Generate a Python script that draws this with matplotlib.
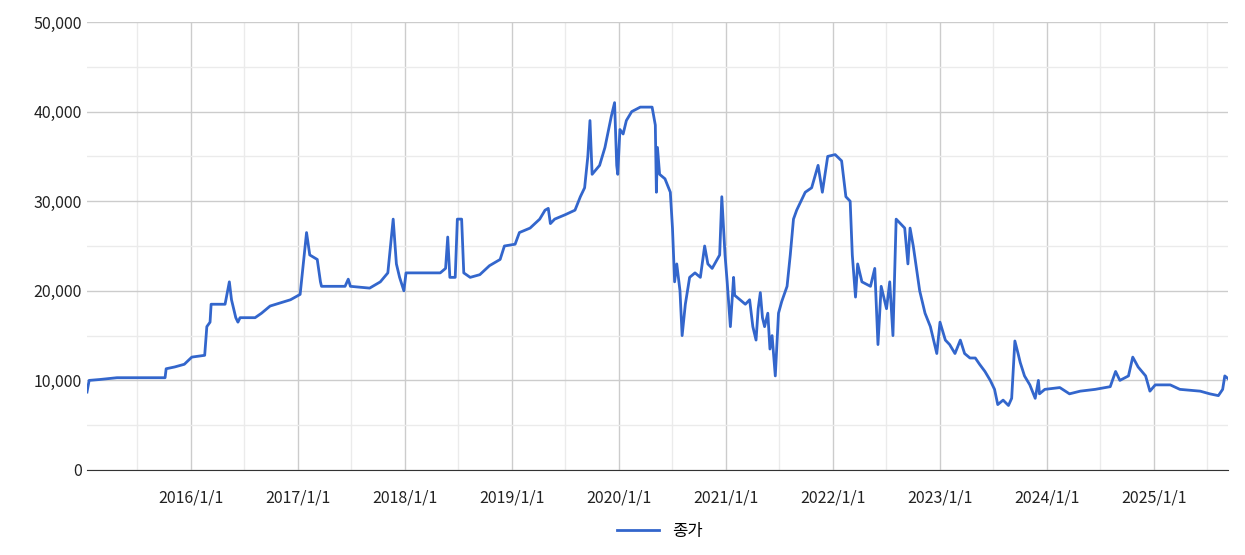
import matplotlib
matplotlib.use("Agg")
import matplotlib.pyplot as plt
import matplotlib.dates as mdates
from matplotlib.ticker import FuncFormatter, MultipleLocator
import pandas as pd

plt.rcParams['font.family'] = ['Noto Sans CJK KR', 'DejaVu Sans']

years = [2015.03,2015.05,2015.15,2015.31,2015.76,2015.77,2015.85,2015.94,2016.01,2016.13,2016.15,2016.18,2016.19,
2016.32,2016.36,2016.38,2016.42,2016.44,2016.46,2016.60,2016.66,2016.74,2016.93,2017.02,2017.05,2017.08,2017.11,
2017.18,2017.21,2017.22,2017.44,2017.47,2017.49,2017.67,2017.77,2017.84,2017.89,2017.92,2017.95,2017.99,2018.01,
2018.33,2018.38,2018.40,2018.42,2018.47,2018.49,2018.53,2018.55,2018.61,2018.70,2018.79,2018.89,2018.93,2019.03,
2019.07,2019.17,2019.26,2019.31,2019.34,2019.36,2019.40,2019.50,2019.59,2019.64,2019.68,2019.71,2019.73,2019.75,
2019.82,2019.87,2019.93,2019.96,2019.98,2019.99,2020.01,2020.04,2020.07,2020.12,2020.20,2020.31,2020.34,2020.35,
2020.36,2020.38,2020.43,2020.48,2020.50,2020.52,2020.54,2020.57,2020.59,2020.62,2020.66,2020.71,2020.76,2020.80,
2020.83,2020.87,2020.94,2020.96,2020.99,2021.01,2021.04,2021.07,2021.08,2021.18,2021.22,2021.25,2021.28,2021.30,
2021.32,2021.34,2021.36,2021.39,2021.41,2021.43,2021.46,2021.49,2021.52,2021.57,2021.60,2021.63,2021.66,2021.74,
2021.80,2021.86,2021.90,2021.95,2022.02,2022.08,2022.12,2022.16,2022.18,2022.21,2022.23,2022.27,2022.35,2022.39,
2022.42,2022.45,2022.50,2022.53,2022.56,2022.59,2022.63,2022.67,2022.70,2022.72,2022.75,2022.81,2022.86,2022.91,
2022.95,2022.97,2023.00,2023.05,2023.09,2023.14,2023.19,2023.23,2023.28,2023.33,2023.37,2023.42,2023.47,2023.51,
2023.54,2023.59,2023.64,2023.67,2023.70,2023.73,2023.75,2023.79,2023.84,2023.89,2023.92,2023.93,2023.98,2024.12,
2024.21,2024.31,2024.45,2024.59,2024.64,2024.68,2024.76,2024.80,2024.85,2024.92,2024.96,2025.01,2025.15,2025.24,
2025.43,2025.52,2025.60,2025.64,2025.66,2025.69]

prices = [8700,10000,10100,10300,10300,11300,11500,11800,12600,12800,16000,16500,18500,
18500,21000,19000,17000,16500,17000,17000,17500,18300,19000,19600,23000,26500,24000,
23500,21000,20500,20500,21300,20500,20300,21000,22000,28000,23000,21500,20000,22000,
22000,22500,26000,21500,21500,28000,28000,22000,21500,21800,22800,23500,25000,25200,
26500,27000,28000,29000,29200,27500,28000,28500,29000,30500,31500,35000,39000,33000,
34000,36000,39500,41000,34000,33000,38000,37500,39000,40000,40500,40500,38500,31000,
36000,33000,32500,31000,27000,21000,23000,20000,15000,18500,21500,22000,21500,25000,
23000,22500,24000,30500,24000,21000,16000,21500,19500,18500,19000,16000,14500,18000,
19800,17000,16000,17500,13500,15000,10500,17500,18800,20500,24000,28000,29000,31000,
31500,34000,31000,35000,35200,34500,30500,30000,24000,19300,23000,21000,20500,22500,
14000,20500,18000,21000,15000,28000,27500,27000,23000,27000,25000,20000,17500,16000,
14000,13000,16500,14500,14000,13000,14500,13000,12500,12500,11800,11000,10000,9000,
7300,7800,7200,8000,14400,13000,12000,10500,9500,8000,10000,8500,9000,9200,
8500,8800,9000,9300,11000,10000,10500,12600,11500,10500,8800,9500,9500,9000,
8800,8500,8300,9000,10500,10200]

tick_years = list(range(2016, 2026))
tick_labels = [f"{y}/1/1" for y in tick_years]

def to_dt(y):
    yr = int(y)
    start = pd.Timestamp(yr, 1, 1)
    end = pd.Timestamp(yr + 1, 1, 1)
    return start + (end - start) * (y - yr)

dates = [to_dt(y) for y in years]

fig = plt.figure(figsize=(12.45, 5.55), dpi=100)
ax = fig.add_axes([87/1245, 1-470/555, (1228-87)/1245, (470-22)/555])
ax.plot(dates, prices, color='#3366cc', lw=2, label='종가')
ax.set_xlim(dates[0], dates[-1])
ax.set_ylim(0, 50000)
ax.yaxis.set_major_locator(MultipleLocator(10000))
ax.yaxis.set_minor_locator(MultipleLocator(5000))
ax.yaxis.set_major_formatter(FuncFormatter(lambda v, p: f"{int(v):,}"))
ax.set_xticks([pd.Timestamp(y, 1, 1) for y in tick_years])
ax.set_xticklabels(tick_labels)
ax.set_xticks([pd.Timestamp(y, 7, 1) for y in range(2015, 2026)], minor=True)
ax.grid(which='major', color='#cccccc', lw=1)
ax.grid(which='minor', color='#ebebeb', lw=1)
ax.set_axisbelow(True)
ax.tick_params(which='both', length=0, labelsize=11.5, colors='#222222')
ax.tick_params(axis='x', pad=14)
for s in ['left', 'right', 'top']:
    ax.spines[s].set_visible(False)
ax.spines['bottom'].set_color('#333333')
fig.legend(loc='lower center', bbox_to_anchor=(0.53, 0.0), frameon=False, fontsize=12, handlelength=2.5)
fig.savefig('out.png', dpi=100)
